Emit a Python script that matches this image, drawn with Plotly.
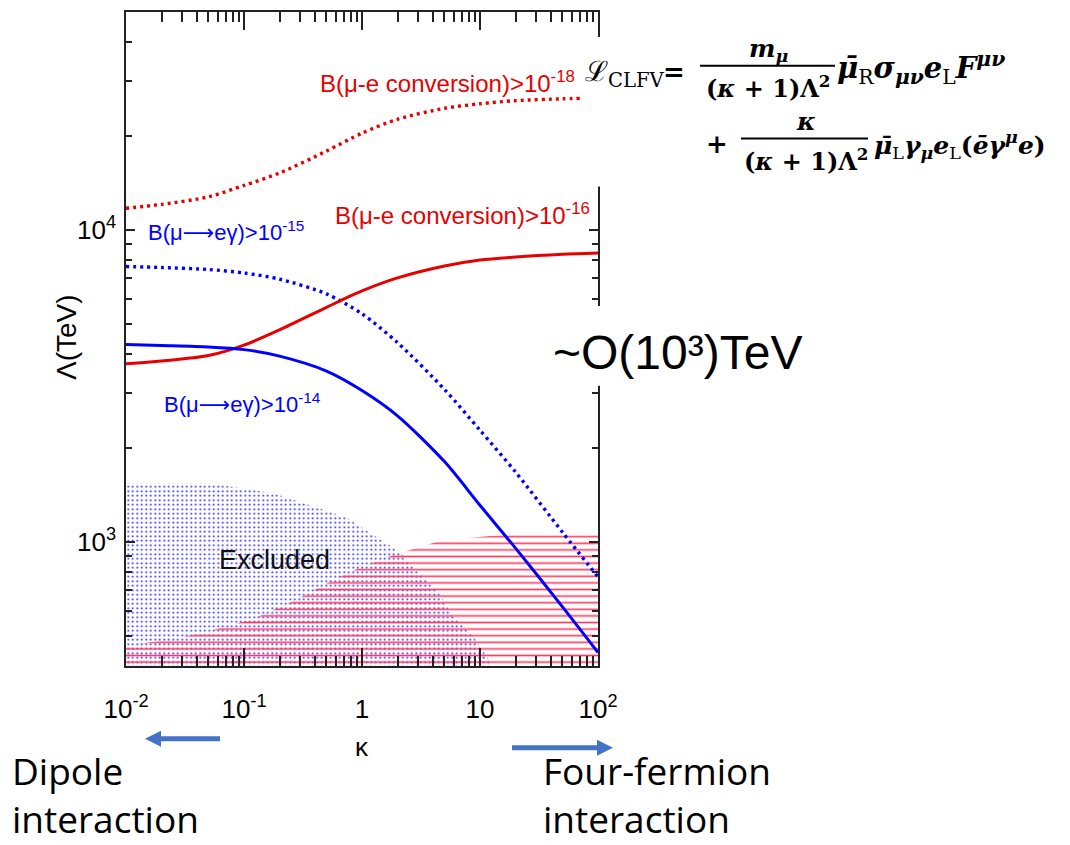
import plotly.graph_objects as go

# ---------------- data ----------------
# B(mu-e conversion) > 1e-18  (red dotted)
kappa_mue18 = [0.01, 0.02, 0.05, 0.1, 0.2, 0.5, 1, 2, 5, 10, 20, 50, 70]
lam_mue18 = [11740, 12085, 12775, 13900, 15230, 17910, 20440, 22650, 24560, 25390, 25980, 26340, 26430]

# B(mu-e conversion) > 1e-16  (red solid)
kappa_mue16 = [0.01, 0.02, 0.05, 0.1, 0.2, 0.5, 1, 2, 5, 10, 20, 50, 100]
lam_mue16 = [3726, 3801, 3957, 4274, 4783, 5651, 6378, 7020, 7664, 8010, 8188, 8354, 8435]

# B(mu -> e gamma) > 1e-15  (blue dotted)
kappa_meg15 = [0.01, 0.02, 0.05, 0.1, 0.2, 0.5, 1, 2, 5, 10, 20, 50, 100]
lam_meg15 = [7637, 7581, 7470, 7281, 6957, 6239, 5386, 4353, 3082, 2280, 1675, 1074, 772]

# B(mu -> e gamma) > 1e-14  (blue solid)
kappa_meg14 = [0.01, 0.02, 0.05, 0.1, 0.2, 0.5, 1, 2, 5, 10, 20, 50, 100]
lam_meg14 = [4297, 4265, 4218, 4135, 3942, 3531, 3059, 2537, 1809, 1310, 955, 619, 442]

# Excluded region boundaries
kappa_excl_meg = [0.01, 0.052, 0.18, 0.73, 2.08, 2.95, 4.5, 5.9, 8.4, 11.9, 12.3]
lam_excl_meg = [1540, 1540, 1430, 1200, 930, 804, 685, 576, 510, 419, 400]
kappa_excl_mue = [0.01, 0.024, 0.048, 0.12, 0.277, 0.57, 0.97, 1.95, 4.8, 22.8, 100]
lam_excl_mue = [465, 486, 515, 567, 652, 755, 830, 914, 1013, 1066, 1074]

x_tickvals = [0.01, 0.1, 1, 10, 100]
x_ticktext = ["10<sup>-2</sup>", "10<sup>-1</sup>", "1", "10", "10<sup>2</sup>"]
y_tickvals = [1000, 10000]
y_ticktext = ["10<sup>3</sup>", "10<sup>4</sup>"]
x_minor = [m * d for d in (0.01, 0.1, 1, 10) for m in range(2, 10)]
y_minor = [500, 600, 700, 800, 900] + [m * 1000 for m in range(2, 10)] + [20000, 30000, 40000]

# ---------------- layout geometry ----------------
W, H = 1070, 845
L, R, T, B = 126, 598, 10, 666
FLOOR = 300  # closes the excluded polygons below the axis range


def px(xp):
    return (xp - L) / (R - L)


def py(yp):
    return (B - yp) / (B - T)


RED = "#e60000"
BLUE = "#0000ff"
SANS = "Liberation Sans, Arial, sans-serif"
SERIF = "DejaVu Serif, Liberation Serif, serif"

fig = go.Figure()

# Excluded regions (patterned)
fig.add_trace(go.Scatter(
    x=kappa_excl_meg + [kappa_excl_meg[-1], kappa_excl_meg[0]],
    y=lam_excl_meg + [FLOOR, FLOOR],
    mode="lines", line=dict(width=0), fill="toself", fillcolor="rgba(0,0,0,0)",
    fillpattern=dict(shape=".", size=4.5, solidity=0.14, fgcolor="rgb(20,20,255)",
                     fgopacity=1, bgcolor="rgba(0,0,0,0)"),
    hoverinfo="skip"))
fig.add_trace(go.Scatter(
    x=kappa_excl_mue + [kappa_excl_mue[-1], kappa_excl_mue[0]],
    y=lam_excl_mue + [FLOOR, FLOOR],
    mode="lines", line=dict(width=0), fill="toself", fillcolor="rgba(0,0,0,0)",
    fillpattern=dict(shape="-", size=6.6, solidity=0.25, fgcolor="rgb(255,60,95)",
                     fgopacity=1, bgcolor="rgba(0,0,0,0)"),
    hoverinfo="skip"))

# Curves
fig.add_trace(go.Scatter(x=kappa_mue18, y=lam_mue18, mode="lines",
                         line=dict(color=RED, width=3.4, dash="3px,4px", shape="spline", smoothing=0.8)))
fig.add_trace(go.Scatter(x=kappa_meg15, y=lam_meg15, mode="lines",
                         line=dict(color=BLUE, width=3.4, dash="3px,4px", shape="spline", smoothing=0.8)))
fig.add_trace(go.Scatter(x=kappa_mue16, y=lam_mue16, mode="lines",
                         line=dict(color=RED, width=3, shape="spline", smoothing=0.8)))
fig.add_trace(go.Scatter(x=kappa_meg14, y=lam_meg14, mode="lines",
                         line=dict(color=BLUE, width=3, shape="spline", smoothing=0.8)))

axis_common = dict(showline=True, linecolor="#222", linewidth=1.5, mirror="ticks",
                   ticks="inside", tickcolor="#222", tickwidth=1.5,
                   showgrid=False, zeroline=False,
                   tickfont=dict(family=SANS, size=26, color="black"))

fig.update_xaxes(type="log", range=[-2, 2], tickmode="array", tickvals=x_tickvals,
                 ticktext=x_ticktext, ticklen=18, ticklabelstandoff=19,
                 minor=dict(tickmode="array", tickvals=x_minor, ticks="inside",
                            ticklen=10, tickwidth=1.5, tickcolor="#222"),
                 **axis_common)
fig.update_yaxes(type="log", range=[2.60206, 4.69897], tickmode="array", tickvals=y_tickvals,
                 ticktext=y_ticktext, ticklen=9, ticklabelstandoff=3,
                 minor=dict(tickmode="array", tickvals=y_minor, ticks="inside",
                            ticklen=6, tickwidth=1.5, tickcolor="#222"),
                 **axis_common)

ann = []


def text(xp, yp, s, size, color="black", family=SANS, xanchor="left", yanchor="middle", **kw):
    ann.append(dict(x=px(xp), y=py(yp), xref="paper", yref="paper", text=s, showarrow=False,
                    xanchor=xanchor, yanchor=yanchor,
                    font=dict(family=family, size=size, color=color), **kw))


# curve labels
ARR = "<span style='font-family:DejaVu Sans'>⟶</span>"
text(577, 80, "B(μ-e conversion)>10<sup>-18</sup>", 24, RED, xanchor="right")
text(592, 213, "B(μ-e conversion)>10<sup>-16</sup>", 24, RED, xanchor="right")
text(146, 230, "B(μ" + ARR + "eγ)>10<sup>-15</sup>", 22, BLUE)
text(162, 402, "B(μ" + ARR + "eγ)>10<sup>-14</sup>", 22, BLUE)
text(217, 560, "Excluded", 27, "#111")

# axis titles
text(66, 336, "Λ(TeV)", 28, xanchor="center", textangle=-90)
text(362, 747, "κ", 26, xanchor="center")

shapes = []
# white background of the equation and of the big label (they hide the frame)
shapes.append(dict(type="rect", xref="paper", yref="paper", layer="above",
                   x0=px(580), x1=px(1070), y0=py(185), y1=py(35),
                   fillcolor="white", line=dict(width=0)))
shapes.append(dict(type="rect", xref="paper", yref="paper", layer="above",
                   x0=px(548), x1=px(812), y0=py(385), y1=py(305),
                   fillcolor="white", line=dict(width=0)))

# big label
text(551, 352, "~O(10³)TeV", 48)

# Equation
text(583, 72, "ℒ<sub>CLFV</sub>", 28, family=SERIF)
text(674, 70, "<b>=</b>", 26, family=SERIF, xanchor="center")
text(768, 48, "<b><i>m</i></b><sub><b><i>μ</i></b></sub>", 25, family=SERIF, xanchor="center")
text(768, 85, "<b>(<i>κ</i> + 1)Λ<sup>2</sup></b>", 24, family=SERIF, xanchor="center")
text(835, 66, "<b><i>μ̄</i></b><sub>R</sub><b><i>σ</i></b><sub><b><i>μν</i></b></sub><b><i>e</i></b><sub>L</sub>"
              "<b><i>F</i></b><sup><b><i>μν</i></b></sup>", 29, family=SERIF)
text(717, 142, "<b>+</b>", 26, family=SERIF, xanchor="center")
text(806, 120, "<b><i>κ</i></b>", 25, family=SERIF, xanchor="center")
text(806, 158, "<b>(<i>κ</i> + 1)Λ<sup>2</sup></b>", 24, family=SERIF, xanchor="center")
text(872, 143, "<b><i>μ̄</i></b><sub>L</sub><b><i>γ</i></b><sub><b><i>μ</i></b></sub><b><i>e</i></b><sub>L</sub>"
              "<b>(<i>ē</i><i>γ</i></b><sup><b><i>μ</i></b></sup><b><i>e</i>)</b>", 25, family=SERIF)
shapes.append(dict(type="line", xref="paper", yref="paper", layer="above",
                   x0=px(700), x1=px(835), y0=py(64), y1=py(64), line=dict(color="black", width=2)))
shapes.append(dict(type="line", xref="paper", yref="paper", layer="above",
                   x0=px(741), x1=px(868), y0=py(137), y1=py(137), line=dict(color="black", width=2)))

# arrows and bottom texts
ARROW = "#4472c4"
shapes.append(dict(type="line", xref="paper", yref="paper", x0=px(220), x1=px(158),
                   y0=py(739), y1=py(739), line=dict(color=ARROW, width=5)))
shapes.append(dict(type="path", xref="paper", yref="paper", line=dict(width=0), fillcolor=ARROW,
                   path=f"M {px(145)} {py(739)} L {px(161)} {py(731)} L {px(161)} {py(747)} Z"))
shapes.append(dict(type="line", xref="paper", yref="paper", x0=px(512), x1=px(600),
                   y0=py(748), y1=py(748), line=dict(color=ARROW, width=5)))
shapes.append(dict(type="path", xref="paper", yref="paper", line=dict(width=0), fillcolor=ARROW,
                   path=f"M {px(613)} {py(748)} L {px(597)} {py(740)} L {px(597)} {py(756)} Z"))

BODY = "Open Sans, Noto Sans, sans-serif"
text(10, 795, "Dipole<br>interaction", 37, family=BODY, align="left")
text(541, 795, "Four-fermion<br>interaction", 37, family=BODY, align="left")

fig.update_layout(width=W, height=H, autosize=False,
                  margin=dict(l=L, r=W - R, t=T, b=H - B, pad=0),
                  paper_bgcolor="white", plot_bgcolor="white", showlegend=False,
                  annotations=ann, shapes=shapes)

fig.write_html("out.html", include_plotlyjs=True, config={"displayModeBar": False},
               post_script="document.body.style.margin='0';document.body.style.overflow='hidden';")
